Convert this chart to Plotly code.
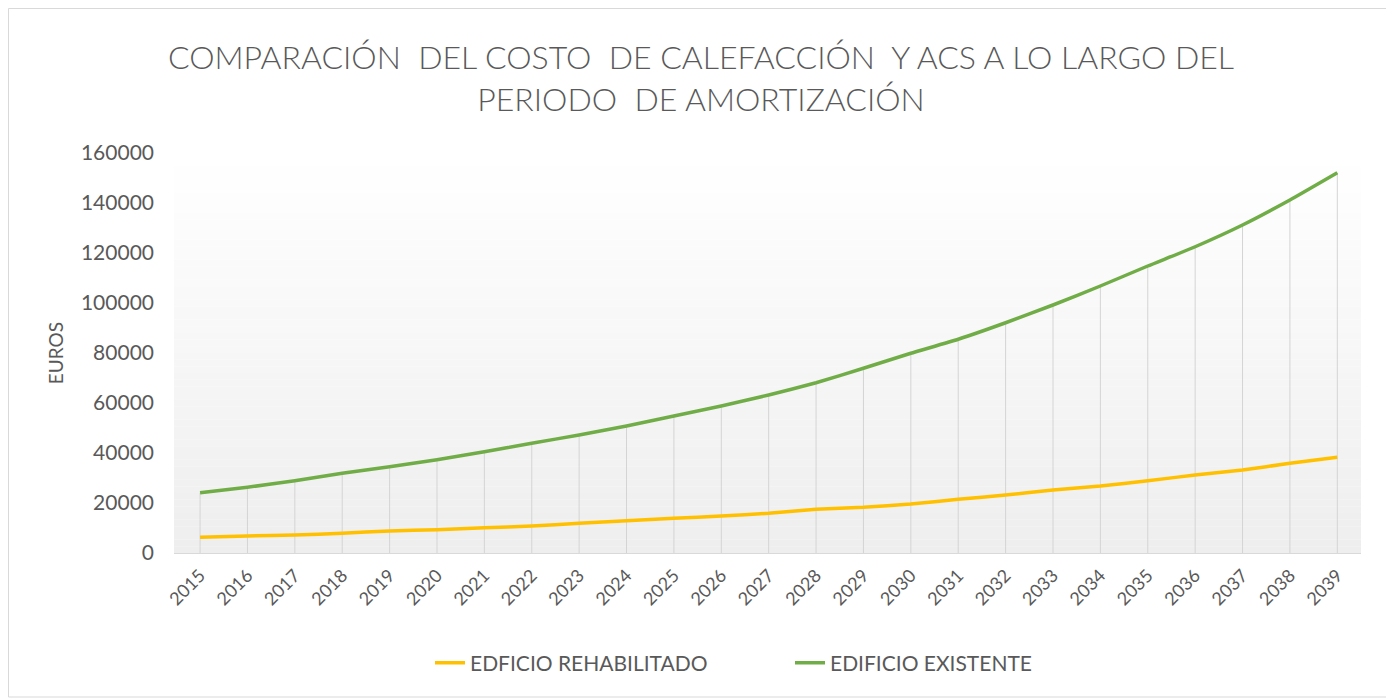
import plotly.graph_objects as go

years = ["2015", "2016", "2017", "2018", "2019", "2020", "2021", "2022", "2023",
         "2024", "2025", "2026", "2027", "2028", "2029", "2030", "2031", "2032",
         "2033", "2034", "2035", "2036", "2037", "2038", "2039"]
rehabilitado = [6300, 6800, 7200, 7900, 8800, 9300, 10100, 10800, 11900, 12900,
                13900, 14800, 15900, 17500, 18300, 19600, 21500, 23200, 25200,
                26800, 28900, 31200, 33200, 35900, 38300]
existente = [24100, 26300, 28900, 31900, 34500, 37300, 40500, 43900, 47200, 50800,
             54800, 58800, 63200, 68100, 73900, 79900, 85500, 92100, 99200,
             106800, 114800, 122500, 131200, 141200, 152100]
y_ticks = [0, 20000, 40000, 60000, 80000, 100000, 120000, 140000, 160000]

title_text = "COMPARACIÓN  DEL COSTO  DE CALEFACCIÓN  Y ACS A LO LARGO DEL<br>PERIODO  DE AMORTIZACIÓN"
grey = "#595959"
font_family = "Lato, 'Open Sans', sans-serif"

W, H = 1386, 690  # page body margin of 8px fills the 1394x698 window
L, R, T, B = 166, 1353, 145, 545

fig = go.Figure()

# drop lines from the highest series down to the axis
dx, dy = [], []
for yr, v in zip(years, existente):
    dx += [yr, yr, None]
    dy += [0, v, None]
fig.add_trace(go.Scatter(x=dx, y=dy, mode="lines", line=dict(color="#d4d4d4", width=1),
                         showlegend=False, hoverinfo="skip"))

fig.add_trace(go.Scatter(x=years, y=rehabilitado, mode="lines", name="EDFICIO REHABILITADO",
                         line=dict(color="#FFC000", width=3.5, shape="spline", smoothing=0.4)))
fig.add_trace(go.Scatter(x=years, y=existente, mode="lines", name="EDIFICIO EXISTENTE",
                         line=dict(color="#70AD47", width=3.5, shape="spline", smoothing=0.4)))

# gradient plot background
shapes = []
n = 60
for i in range(n):
    t = i / (n - 1)  # 0 bottom, 1 top
    c = int(round(238 + (255 - 238) * t))
    shapes.append(dict(type="rect", xref="paper", yref="paper", x0=0, x1=1,
                       y0=i / n, y1=(i + 1) / n, fillcolor=f"rgb({c},{c},{c})",
                       line=dict(width=0), layer="below"))


def px_x(p):
    return (p - L) / (R - L)


def px_y(p):
    return (B - p) / (B - T)


# outer chart border
shapes.append(dict(type="rect", xref="paper", yref="paper",
                   x0=px_x(0.5), x1=px_x(1380), y0=px_y(689), y1=px_y(0.5),
                   line=dict(color="#d9d9d9", width=1), fillcolor="rgba(0,0,0,0)", layer="below"))

fig.update_layout(
    width=W, height=H,
    margin=dict(l=L, r=W - R, t=T, b=H - B),
    paper_bgcolor="white", plot_bgcolor="white",
    font=dict(family=font_family, color=grey),
    title=dict(text=title_text, x=0.5, xanchor="center", y=1 - 61 / H, yanchor="middle",
               font=dict(size=32, color=grey, family=font_family, weight=300)),
    shapes=shapes,
    showlegend=True,
    legend=dict(orientation="h", x=px_x(422), xanchor="left", y=px_y(655), yanchor="middle",
                font=dict(size=21, color=grey), traceorder="normal",
                entrywidth=315, entrywidthmode="pixels"),
    xaxis=dict(type="category", range=[-0.55, 24.5], showgrid=False, zeroline=False,
               showline=True, linecolor="#d9d9d9", linewidth=1, tickangle=-45,
               tickfont=dict(size=18, color=grey), ticks="", ticklabelstandoff=4),
    yaxis=dict(range=[0, 160000], tickvals=y_ticks, ticktext=[str(v) for v in y_ticks],
               showgrid=False, zeroline=False, showline=False, ticks="",
               tickfont=dict(size=21, color=grey), ticklabelstandoff=19,
               title=dict(text="EUROS", font=dict(size=19, color=grey), standoff=12)),
)

fig.write_html("out.html")
